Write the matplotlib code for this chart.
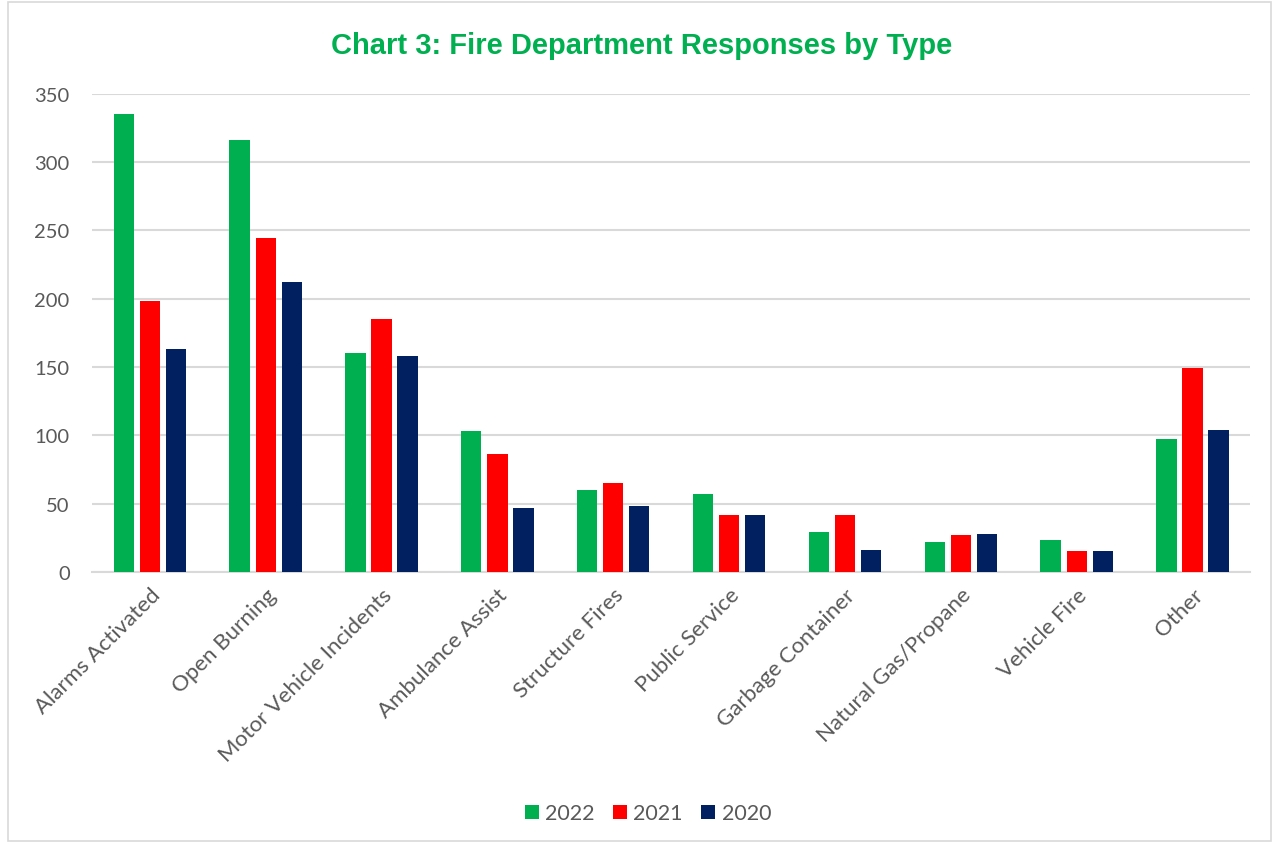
import matplotlib
matplotlib.use("Agg")
import matplotlib.pyplot as plt
import numpy as np
from matplotlib.patches import Rectangle

categories = ["Alarms Activated", "Open Burning", "Motor Vehicle Incidents", "Ambulance Assist",
              "Structure Fires", "Public Service", "Garbage Container", "Natural Gas/Propane",
              "Vehicle Fire", "Other"]
years = ["2022", "2021", "2020"]
v2022 = [335, 316, 160, 103, 60, 57, 29, 22, 23, 97]
v2021 = [198, 244, 185, 86, 65, 42, 42, 27, 15, 149]
v2020 = [163, 212, 158, 47, 48, 42, 16, 28, 15, 104]
colors = ["#00B050", "#FF0000", "#002060"]

plt.rcParams["font.family"] = ["Lato", "DejaVu Sans"]

fig = plt.figure(figsize=(12.76, 8.45), dpi=100)
ax = fig.add_axes([0.072, 0.322, 0.908, 0.566])

x = np.arange(len(categories))
w = 0.175
for off, vals, col, lab in zip([-0.225, 0, 0.225], [v2022, v2021, v2020], colors, years):
    ax.bar(x + off, vals, width=w, color=col, label=lab, zorder=3)

ax.set_xlim(-0.5, len(categories) - 0.5)
ax.set_ylim(0, 350)
ax.set_yticks(range(0, 351, 50))
ax.grid(axis="y", color="#D9D9D9", linewidth=1.5, zorder=0)
for s in ["top", "right", "left"]:
    ax.spines[s].set_visible(False)
ax.spines["bottom"].set_color("#D9D9D9")
ax.spines["bottom"].set_linewidth(1.5)
ax.tick_params(axis="y", length=0, labelsize=14.5, labelcolor="#595959", pad=16)
ax.tick_params(axis="x", length=0, labelsize=16, labelcolor="#595959", pad=9)
ax.set_xticks(x)
ax.set_xticklabels(categories, rotation=45, ha="right", rotation_mode="anchor")

fig.text(0.503, 0.946, "Chart 3: Fire Department Responses by Type", ha="center", va="center",
         fontsize=21, fontweight="bold", color="#00B050", family="Liberation Sans")

ax.legend(loc="center", bbox_to_anchor=(0.48, -0.505), ncol=3, frameon=False, fontsize=15.5,
          labelcolor="#595959", handlelength=0.65, handleheight=0.65, handletextpad=0.3,
          columnspacing=0.85)

fig.patches.append(Rectangle((0.006, 0.003), 0.99, 0.994, transform=fig.transFigure,
                             fill=False, edgecolor="#D9D9D9", linewidth=1.2))

fig.savefig("out.png", dpi=100)
